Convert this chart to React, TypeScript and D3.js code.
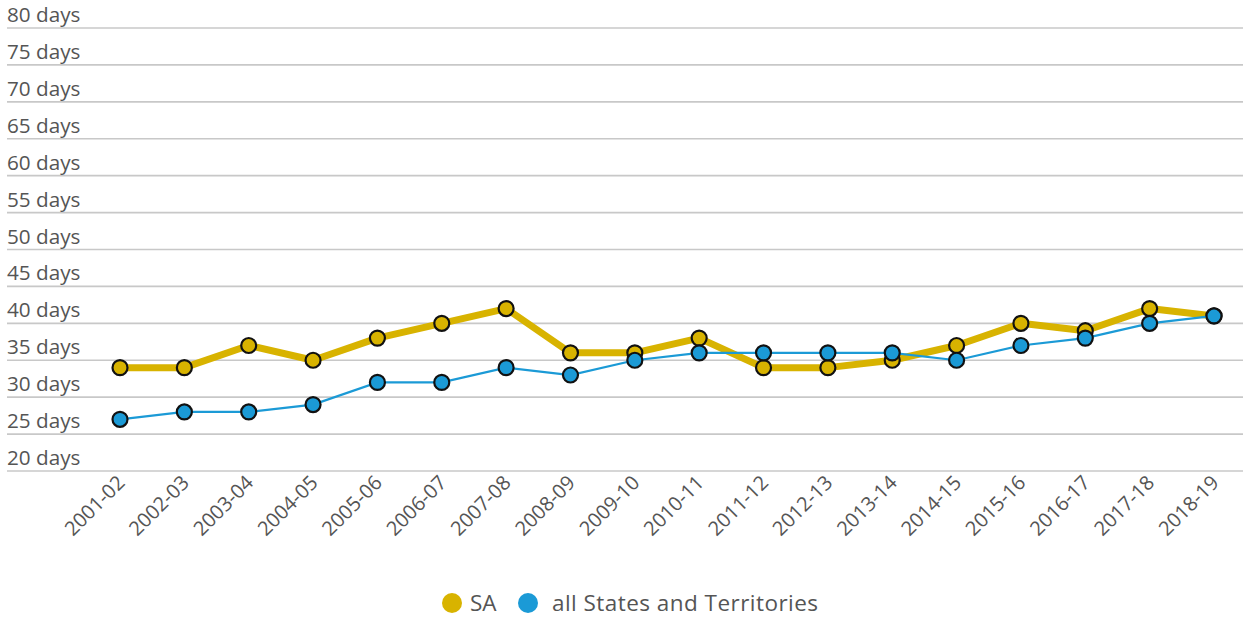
import React from "react";
import * as d3 from "d3";

const categories = ["2001-02","2002-03","2003-04","2004-05","2005-06","2006-07","2007-08","2008-09","2009-10","2010-11","2011-12","2012-13","2013-14","2014-15","2015-16","2016-17","2017-18","2018-19"];
const saValues = [34, 34, 37, 35, 38, 40, 42, 36, 36, 38, 34, 34, 35, 37, 40, 39, 42, 41];
const allValues = [27, 28, 28, 29, 32, 32, 34, 33, 35, 36, 36, 36, 36, 35, 37, 38, 40, 41];
const yTicks = [20, 25, 30, 35, 40, 45, 50, 55, 60, 65, 70, 75, 80];
const seriesNames = ["SA", "all States and Territories"];

const W = 1243, H = 618;
const FONT = "'Open Sans', sans-serif";
const SA_COLOR = "#D8B300";
const ALL_COLOR = "#1B9AD6";

export default function App() {
  const x = d3.scalePoint<string>().domain(categories).range([120, 1214]);
  const y = d3.scaleLinear().domain([20, 80]).range([471, 28]);
  const line = d3.line<number>().x((_, i) => x(categories[i])!).y(d => y(d));

  return (
    <svg width={W} height={H} style={{ position: "absolute", left: 0, top: 0, background: "#fff" }}>
      {yTicks.map(t => (
        <g key={t}>
          <line x1={7} x2={W} y1={y(t)} y2={y(t)} stroke="#c8c8c8" strokeWidth={1.6} />
          <text x={7} y={y(t) - 6} fontFamily={FONT} fontSize={20.7} fill="#555">{t} days</text>
        </g>
      ))}
      {categories.map(c => (
        <text key={c} transform={`translate(${x(c)! + 6},${484}) rotate(-45)`} textAnchor="end"
          fontFamily={FONT} fontSize={20} fill="#555">{c}</text>
      ))}
      <path d={line(saValues)!} fill="none" stroke={SA_COLOR} strokeWidth={7} strokeLinejoin="round" />
      {saValues.map((v, i) => (
        <circle key={"s" + i} cx={x(categories[i])} cy={y(v)} r={7.5} fill={SA_COLOR} stroke="#111" strokeWidth={2.2} />
      ))}
      <path d={line(allValues)!} fill="none" stroke={ALL_COLOR} strokeWidth={2.2} />
      {allValues.map((v, i) => (
        <circle key={"a" + i} cx={x(categories[i])} cy={y(v)} r={7.5} fill={ALL_COLOR} stroke="#111" strokeWidth={2.2} />
      ))}
      <g fontFamily={FONT} fontSize={22.5} fill="#555">
        <circle cx={452} cy={603} r={10} fill={SA_COLOR} />
        <text x={470} y={611}>{seriesNames[0]}</text>
        <circle cx={528} cy={603} r={10} fill={ALL_COLOR} />
        <text x={552} y={611} textLength={266}>{seriesNames[1]}</text>
      </g>
    </svg>
  );
}
